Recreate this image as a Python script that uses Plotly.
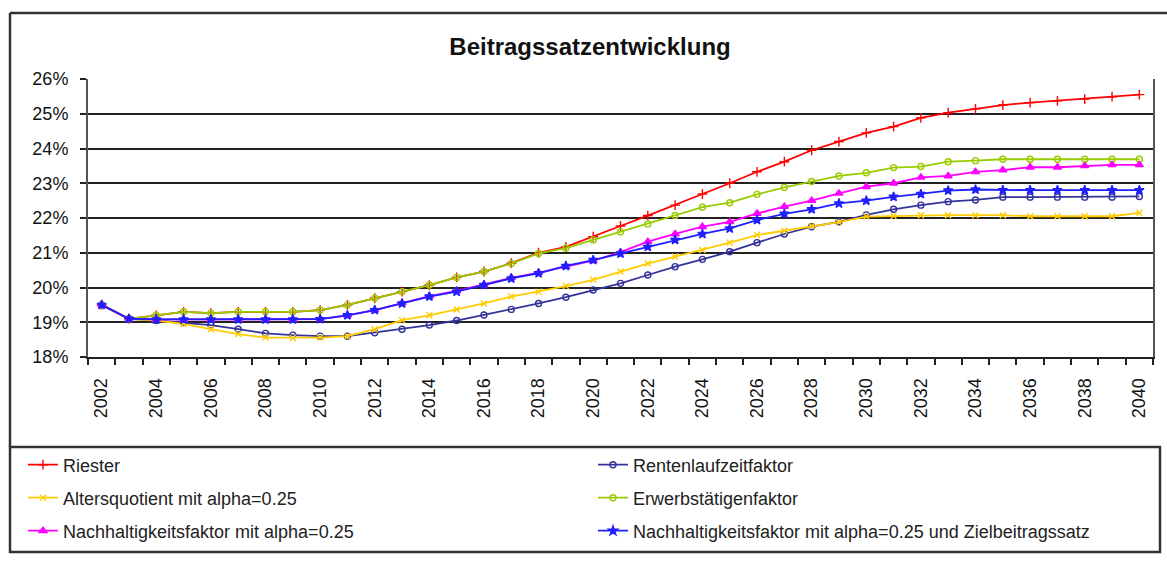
import plotly.graph_objects as go

years = list(range(2002, 2041))

riester = [19.5, 19.1, 19.2, 19.3, 19.26, 19.3, 19.3, 19.3, 19.35, 19.5,
           19.69, 19.88, 20.07, 20.29, 20.46, 20.7, 21.0, 21.17, 21.46, 21.77,
           22.07, 22.37, 22.69, 23.0, 23.33, 23.62, 23.95, 24.2, 24.45, 24.63,
           24.88, 25.03, 25.14, 25.25, 25.32, 25.37, 25.42, 25.49, 25.55]
rentenlaufzeit = [19.5, 19.1, 19.05, 18.99, 18.92, 18.8, 18.68, 18.63, 18.6, 18.6,
                  18.7, 18.8, 18.92, 19.05, 19.21, 19.37, 19.54, 19.72, 19.93, 20.12,
                  20.36, 20.6, 20.81, 21.03, 21.29, 21.54, 21.75, 21.89, 22.09, 22.25,
                  22.37, 22.47, 22.52, 22.6, 22.6, 22.6, 22.6, 22.6, 22.62]
altersquotient = [19.5, 19.1, 19.05, 18.95, 18.8, 18.66, 18.56, 18.55, 18.56, 18.6,
                  18.8, 19.06, 19.2, 19.37, 19.54, 19.74, 19.88, 20.04, 20.22, 20.46,
                  20.69, 20.89, 21.08, 21.29, 21.51, 21.63, 21.77, 21.88, 22.04, 22.06,
                  22.08, 22.08, 22.08, 22.08, 22.05, 22.05, 22.05, 22.05, 22.15]
erwerbstaetigen = [19.5, 19.1, 19.2, 19.3, 19.26, 19.3, 19.3, 19.3, 19.35, 19.5,
                   19.69, 19.88, 20.07, 20.29, 20.46, 20.69, 20.98, 21.13, 21.37, 21.6,
                   21.83, 22.07, 22.31, 22.44, 22.68, 22.88, 23.05, 23.21, 23.3, 23.45,
                   23.48, 23.62, 23.65, 23.69, 23.69, 23.69, 23.69, 23.69, 23.69]
nachhaltigkeit = [19.5, 19.1, 19.08, 19.08, 19.08, 19.08, 19.08, 19.08, 19.09, 19.2,
                  19.35, 19.55, 19.75, 19.9, 20.08, 20.28, 20.43, 20.6, 20.77, 21.02,
                  21.32, 21.54, 21.75, 21.89, 22.13, 22.33, 22.5, 22.71, 22.9, 23.0,
                  23.17, 23.21, 23.33, 23.38, 23.46, 23.46, 23.5, 23.53, 23.53]
nachhaltigkeit_ziel = [19.5, 19.1, 19.08, 19.08, 19.08, 19.08, 19.08, 19.08, 19.09, 19.2,
                       19.35, 19.54, 19.74, 19.88, 20.07, 20.26, 20.41, 20.62, 20.79, 20.98,
                       21.17, 21.37, 21.54, 21.7, 21.94, 22.12, 22.25, 22.42, 22.5, 22.61,
                       22.69, 22.79, 22.82, 22.8, 22.8, 22.8, 22.8, 22.8, 22.8]

names = ["Riester", "Rentenlaufzeitfaktor", "Altersquotient mit alpha=0.25",
         "Erwerbstätigenfaktor", "Nachhaltigkeitsfaktor mit alpha=0.25",
         "Nachhaltigkeitsfaktor mit alpha=0.25 und Zielbeitragssatz"]
series = [riester, rentenlaufzeit, altersquotient, erwerbstaetigen, nachhaltigkeit, nachhaltigkeit_ziel]
colors = ["#FF0000", "#333399", "#FFCC00", "#99CC00", "#FF00FF", "#2020FF"]
symbols = ["cross-thin", "circle-open", "x-thin", "circle-open", "triangle-up", "star"]
sizes = [7, 6, 6, 6, 7, 7]

W, H = 1167, 567
L, R, T, B = 88, 1153, 79, 357
PW, PH = R - L, B - T

def px(x):
    return (x - L) / PW

def py(y):
    return (B - y) / PH

FONT = "Liberation Sans, Arial, sans-serif"

# legend item placement (left x, row centre y) in pixels
leg_pos = [(23, 465), (593, 465), (23, 498), (593, 498), (23, 531), (593, 531)]
leg_ids = ["legend", "legend2", "legend3", "legend4", "legend5", "legend6"]

fig = go.Figure()
for n, s, c, sym, sz, lg in zip(names, series, colors, symbols, sizes, leg_ids):
    fig.add_trace(go.Scatter(
        x=years, y=s, name=n, mode="lines+markers", legend=lg,
        line=dict(color=c, width=1.8),
        marker=dict(symbol=sym, size=sz, color=c, line=dict(color=c, width=1.4)),
    ))

leg_layout = {}
for lg, (lx, ly) in zip(leg_ids, leg_pos):
    leg_layout[lg] = dict(orientation="v", xanchor="left", yanchor="middle",
                          x=px(lx), y=py(ly),
                          font=dict(family=FONT, size=18, color="#222"),
                          bgcolor="rgba(0,0,0,0)", borderwidth=0)

fig.update_layout(
    width=W, height=H,
    margin=dict(l=L, r=W - R, t=T, b=H - B, autoexpand=False),
    paper_bgcolor="white", plot_bgcolor="white",
    showlegend=True,
    title=dict(text="<b>Beitragssatzentwicklung</b>", x=590 / W, xanchor="center",
               y=1 - 47 / H, yanchor="middle", yref="container",
               font=dict(family=FONT, size=24, color="#111")),
    xaxis=dict(range=[2001.5, 2040.5], tickmode="linear", tick0=2002, dtick=2,
               tickangle=-90, ticks="", showgrid=False, zeroline=False,
               showline=True, linecolor="#222", linewidth=2, mirror=False,
               tickfont=dict(family=FONT, size=18, color="#111"),
               ticklabelstandoff=12,
               minor=dict(tick0=2001.5, dtick=1, ticks="outside", ticklen=6,
                          tickcolor="#222", tickwidth=1.5, showgrid=False)),
    yaxis=dict(range=[18, 26], tickmode="linear", tick0=18, dtick=1, ticksuffix="%",
               showgrid=True, gridcolor="#222", gridwidth=2, zeroline=False,
               ticks="outside", ticklen=6, tickcolor="#222", tickwidth=1.5,
               showline=True, linecolor="#555", linewidth=2, mirror=True,
               ticklabelstandoff=8,
               tickfont=dict(family=FONT, size=18, color="#111")),
    shapes=[
        dict(type="line", xref="paper", yref="paper", x0=px(10), x1=px(1167), y0=py(13), y1=py(13),
             line=dict(color="#333", width=2.5)),
        dict(type="line", xref="paper", yref="paper", x0=px(10), x1=px(10), y0=py(13), y1=py(447),
             line=dict(color="#333", width=2.5)),
        dict(type="rect", xref="paper", yref="paper", x0=px(10), x1=px(1160), y0=py(447), y1=py(552),
             line=dict(color="#333", width=2.5), fillcolor="rgba(0,0,0,0)"),
    ],
    **leg_layout,
)

fig.write_html("out.html", config={"displayModeBar": False},
               post_script="document.body.style.margin='0';")
